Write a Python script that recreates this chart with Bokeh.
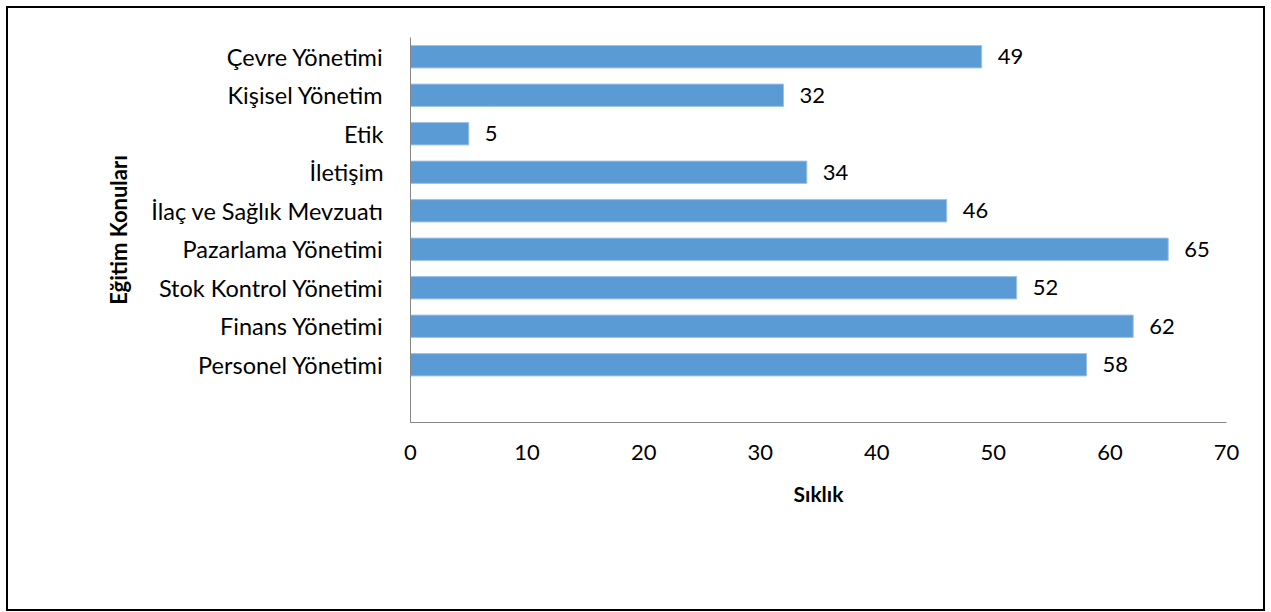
from bokeh.plotting import figure
from bokeh.models import Range1d, FixedTicker, ColumnDataSource
from bokeh.core.properties import value
from bokeh.embed import file_html
from bokeh.resources import INLINE

categories = ["Çevre Yönetimi", "Kişisel Yönetim", "Etik", "İletişim",
              "İlaç ve Sağlık Mevzuatı", "Pazarlama Yönetimi",
              "Stok Kontrol Yönetimi", "Finans Yönetimi", "Personel Yönetimi"]
values = [49, 32, 5, 34, 46, 65, 52, 62, 58]
x_ticks = [0, 10, 20, 30, 40, 50, 60, 70]
x_title = "Sıklık"
y_title = "Eğitim Konuları"

n_slots = len(categories) + 1
ypos = [n_slots - 0.5 - i for i in range(len(categories))]

src = ColumnDataSource(dict(y=ypos, v=values, lbl=[str(v) for v in values]))

FONT = "Lato"

p = figure(width=1259, height=605, output_backend="svg", toolbar_location=None,
           x_range=Range1d(0, 70), y_range=Range1d(0, n_slots),
           min_border_left=402, min_border_right=41, min_border_top=29,
           min_border_bottom=191)
p.styles = {"border": "2px solid black", "box-sizing": "border-box",
            "margin-left": "6px", "margin-top": "6px"}

p.hbar(y="y", right="v", left=0, height=0.58, source=src,
       fill_color="#5B9BD5", line_color="#9DC3E6", line_width=1)
p.text(x="v", y="y", text="lbl", source=src, x_offset=16,
       text_align="left", text_baseline="middle",
       text_font=value(FONT), text_font_size="22px", text_color="#000000")

p.grid.visible = False
p.outline_line_color = None

xa = p.xaxis[0]
xa.ticker = FixedTicker(ticks=x_ticks)
xa.axis_line_color = "#868686"
xa.major_tick_line_color = None
xa.minor_tick_line_color = None
xa.major_label_text_font = FONT
xa.major_label_text_font_size = "22px"
xa.major_label_text_color = "#000000"
xa.major_label_standoff = 16
xa.axis_label = x_title
xa.axis_label_text_font = FONT
xa.axis_label_text_font_style = "bold"
xa.axis_label_text_font_size = "21px"
xa.axis_label_text_color = "#000000"
xa.axis_label_standoff = 18

ya = p.yaxis[0]
ya.ticker = FixedTicker(ticks=ypos)
ya.major_label_overrides = {y: c for y, c in zip(ypos, categories)}
ya.axis_line_color = "#868686"
ya.major_tick_line_color = None
ya.minor_tick_line_color = None
ya.major_label_text_font = FONT
ya.major_label_text_font_size = "23.5px"
ya.major_label_text_color = "#000000"
ya.major_label_standoff = 21
ya.axis_label = y_title
ya.axis_label_text_font = FONT
ya.axis_label_text_font_style = "bold"
ya.axis_label_text_font_size = "22px"
ya.axis_label_text_color = "#000000"
ya.axis_label_standoff = 16

open("out.html", "w").write(file_html(p, INLINE))
